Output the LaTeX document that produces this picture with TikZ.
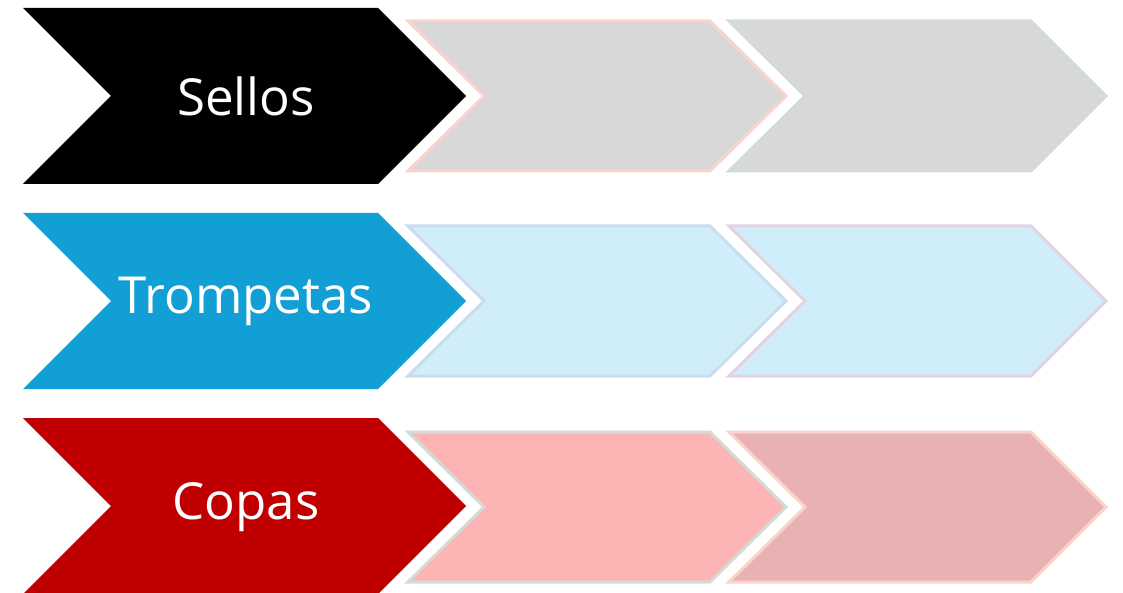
\documentclass[tikz,border=0pt]{standalone}
\usepackage{fontspec}
\setmainfont{Open Sans}
\definecolor{cblue}{HTML}{119FD6}
\definecolor{cred}{HTML}{C00000}
\definecolor{cgray}{HTML}{D8D8D8}
\definecolor{lblue}{HTML}{D0EEF9}
\definecolor{lred}{HTML}{FDB4B4}
\definecolor{mred}{HTML}{E9B2B2}
\definecolor{opink}{HTML}{F8D4CA}
\definecolor{ogreen}{HTML}{D2DCD4}
\definecolor{oblue}{HTML}{CADDF0}
\definecolor{olilac}{HTML}{E2D2E4}
\begin{document}
\begin{tikzpicture}[x=1pt,y=-1pt,
  smallchev/.style={line width=3pt,line join=miter},
  label/.style={text=white,font=\fontsize{51}{60}\selectfont,anchor=center}]
\useasboundingbox (0,0) rectangle (1123,593);
\foreach \c/\fc in {96/black,301/cblue,506/cred}{
  \fill[\fc] (23,\c-88) -- (378,\c-88) -- (466,\c) -- (378,\c+88) -- (23,\c+88) -- (111,\c) -- cycle;
}
\def\chA#1#2#3{\draw[smallchev,fill=#2,draw=#3] (408,#1-75) -- (710,#1-75) -- (786,#1) -- (710,#1+75) -- (408,#1+75) -- (484,#1) -- cycle;}
\def\chB#1#2#3{\draw[smallchev,fill=#2,draw=#3] (729,#1-75) -- (1031,#1-75) -- (1106,#1) -- (1031,#1+75) -- (729,#1+75) -- (805,#1) -- cycle;}
\chA{96}{cgray}{opink}
\chB{96}{cgray}{ogreen}
\chA{301}{lblue}{oblue}
\chB{301}{lblue}{olilac}
\chA{507}{lred}{ogreen}
\chB{507}{mred}{opink}
\node[label] (sellos) at (246,96) {Sellos};
\node[label] (trompetas) at (246,301) {Trompetas};
\node[label] (copas) at (246,507) {Copas};
\end{tikzpicture}
\end{document}
